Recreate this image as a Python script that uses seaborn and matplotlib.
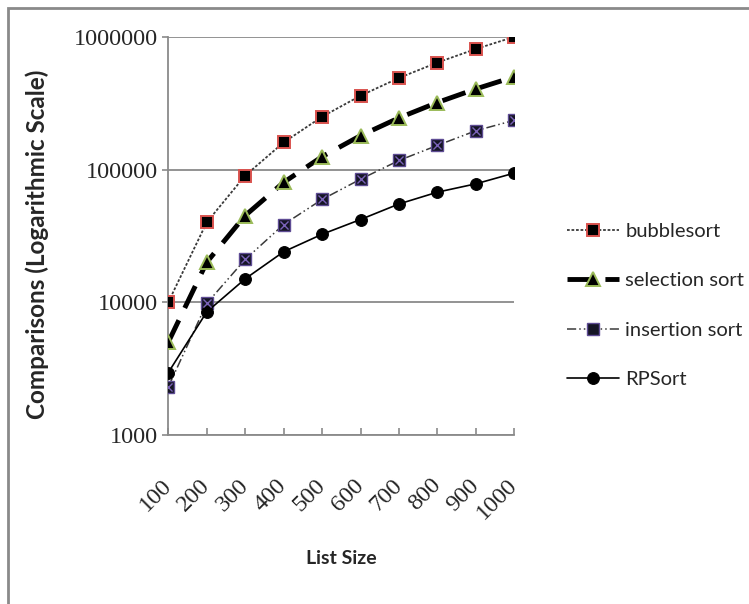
import numpy as np
import pandas as pd
import matplotlib
matplotlib.use("Agg")
import matplotlib.pyplot as plt
from matplotlib.patches import Rectangle
import seaborn as sns

list_size = [100, 200, 300, 400, 500, 600, 700, 800, 900, 1000]
bubblesort = [10000, 40000, 90000, 160000, 250000, 360000, 490000, 640000, 810000, 1000000]
selection_sort = [5000, 20000, 45000, 80000, 125000, 180000, 245000, 320000, 405000, 500000]
insertion_sort = [2300, 9800, 21000, 38500, 59500, 84500, 117000, 152000, 196000, 235000]
rpsort = [2950, 8450, 15000, 24000, 32500, 42000, 55000, 67500, 78000, 94000]
y_ticks = [1000, 10000, 100000, 1000000]

sns.set_style("white")
plt.rcParams['font.family'] = ['Lato', 'DejaVu Sans']

fig = plt.figure(figsize=(7.49, 6.04), dpi=100)
ax = fig.add_axes([0.2247, 0.280, 0.6866 - 0.2247, 0.939 - 0.280])

grey = '#8a8a8a'

# outer chart frame (cut off at right/bottom like the original)
fig.patches.append(Rectangle((7.5 / 749, -0.1), 2, 1 - 8.0 / 604 + 0.1,
                             transform=fig.transFigure, fill=False,
                             edgecolor=grey, lw=2, zorder=0))

sns.lineplot(x=list_size, y=bubblesort, ax=ax, label='bubblesort',
             color='#3a3a3a', lw=1.3, linestyle=(0, (1.5, 1.0)),
             marker='s', markersize=8.5, markerfacecolor='black',
             markeredgecolor='#d9534f', markeredgewidth=1.4, zorder=5)
sns.lineplot(x=list_size, y=selection_sort, ax=ax, label='selection sort',
             color='black', lw=3.5, linestyle=(0, (5, 2.8)),
             marker='^', markersize=10.5, markerfacecolor='black',
             markeredgecolor='#9bbb59', markeredgewidth=1.4, zorder=5)
sns.lineplot(x=list_size, y=insertion_sort, ax=ax, label='insertion sort',
             color='#3a3a3a', lw=1.1, linestyle=(0, (6, 2, 1, 2, 1, 2)),
             marker='s', markersize=8.5, markerfacecolor='#151525',
             markeredgecolor='#5e4c94', markeredgewidth=1.0, zorder=5)
ax.scatter(list_size, insertion_sort, marker='x', s=34, color='#7a62b8',
           linewidths=1.0, zorder=6)
sns.lineplot(x=list_size, y=rpsort, ax=ax, label='RPSort',
             color='black', lw=1.2, linestyle='-',
             marker='o', markersize=8.5, markerfacecolor='black',
             markeredgecolor='black', zorder=5)

ax.set_yscale('log')
ax.set_ylim(1000, 1000000)
ax.set_xlim(100, 1000)
ax.set_yticks(y_ticks)
ax.set_yticklabels([str(v) for v in y_ticks])
ax.minorticks_off()
ax.set_xticks(list_size)
ax.set_xticklabels([str(v) for v in list_size])

ax.grid(axis='y', color=grey, lw=1.3)
ax.grid(axis='x', visible=False)
ax.set_axisbelow(True)
for s in ['top', 'right']:
    ax.spines[s].set_visible(False)
for s in ['left', 'bottom']:
    ax.spines[s].set_color(grey)
    ax.spines[s].set_linewidth(1.3)

ax.tick_params(axis='y', direction='out', length=4.5, width=1.2, color=grey,
               pad=3, labelsize=17.5, left=True)
ax.tick_params(axis='x', direction='in', length=5, width=1.2, color=grey,
               pad=34, labelsize=17.5, bottom=True)
for lab in ax.get_yticklabels() + ax.get_xticklabels():
    lab.set_fontfamily('Liberation Serif')
for lab in ax.get_xticklabels():
    lab.set_rotation(45)
    lab.set_ha('right')
    lab.set_va('center')
    lab.set_rotation_mode('anchor')

ax.set_ylabel('Comparisons (Logarithmic Scale)', fontsize=17.5, fontweight='bold')
ax.yaxis.set_label_coords(-119.5 / 346.0, 0.478)
ax.set_xlabel('List Size', fontsize=14, fontweight='bold')
ax.xaxis.set_label_coords(0.5, -0.289)

leg = ax.legend(loc='center left', bbox_to_anchor=(567 / 749, 1 - 305.5 / 604),
                bbox_transform=fig.transFigure, frameon=False, fontsize=14.5,
                handlelength=2.6, handletextpad=0.3, labelspacing=1.6,
                borderpad=0, borderaxespad=0)

fig.savefig('out.png', dpi=100)
